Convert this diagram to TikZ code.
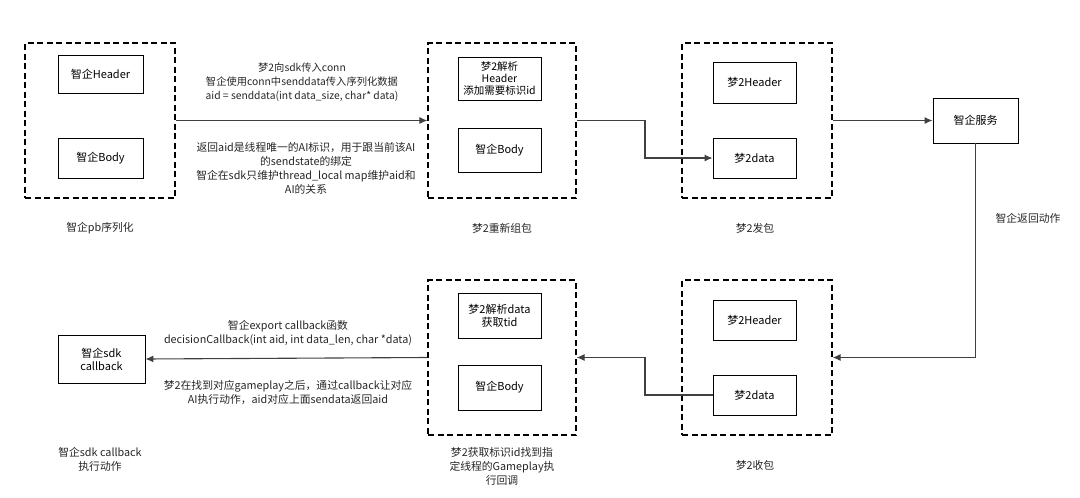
\documentclass[tikz,border=0pt]{standalone}
\usepackage{fontspec}
\setmainfont{Noto Sans CJK SC}
\usetikzlibrary{arrows.meta}
\begin{document}
\begin{tikzpicture}[x=1pt,y=-1pt,
 dbox/.style={draw,dashed,line width=1.3pt,dash pattern=on 6pt off 3.5pt},
 ibox/.style={draw,line width=0.9pt,align=center,font=\fontsize{11}{13}\selectfont,inner sep=1pt},
 lbl/.style={align=center,font=\fontsize{10.8}{14}\selectfont,text=black!85,inner sep=0pt},
 arr/.style={draw=black!75,line width=1.1pt,-{Latex[length=8pt,width=7pt]}}]
\useasboundingbox (0,0) rectangle (1080,498);
% boxes
\node[dbox,minimum width=150,minimum height=155] (d1) at (100,120.5) {};
\node[dbox,minimum width=148,minimum height=155] (d2) at (502,120.5) {};
\node[dbox,minimum width=150,minimum height=155] (d3) at (757,120.5) {};
\node[dbox,minimum width=150,minimum height=155] (d4) at (757,357.5) {};
\node[dbox,minimum width=148,minimum height=155] (d5) at (502,357.5) {};
\node[ibox,minimum width=85,minimum height=38] (h1) at (100.5,74) {智企Header};
\node[ibox,minimum width=85,minimum height=40] (b1) at (100.5,158) {智企Body};
\node[ibox,minimum width=83,minimum height=43,font=\fontsize{10.5}{12}\selectfont] (h2) at (499.5,78.5) {梦2解析\\Header\\添加需要标识id};
\node[ibox,minimum width=83,minimum height=44] (b2) at (499.5,150) {智企Body};
\node[ibox,minimum width=83,minimum height=41] (h3) at (754.5,82.5) {梦2Header};
\node[ibox,minimum width=83,minimum height=40] (b3) at (754.5,158) {梦2data};
\node[ibox,minimum width=85,minimum height=45] (svc) at (975.5,120.5) {智企服务};
\node[ibox,minimum width=83,minimum height=40] (h4) at (754.5,320) {梦2Header};
\node[ibox,minimum width=83,minimum height=40] (b4) at (754.5,395) {梦2data};
\node[ibox,minimum width=83,minimum height=45] (h5) at (499.5,315.5) {梦2解析data\\获取tid};
\node[ibox,minimum width=83,minimum height=45] (b5) at (499.5,387.5) {智企Body};
\node[ibox,minimum width=87,minimum height=48] (cb) at (101.5,359) {智企sdk\\callback};
% labels
\node[lbl] at (100,228) {智企pb序列化};
\node[lbl] at (502,228) {梦2重新组包};
\node[lbl] at (755,228) {梦2发包};
\node[lbl] at (1028,218) {智企返回动作};
\node[lbl] at (755,465) {梦2收包};
\node[lbl] at (502,466) {梦2获取标识id找到指\\定线程的Gameplay执\\行回调};
\node[lbl] at (100,459) {智企sdk callback\\执行动作};
\node[lbl,font=\fontsize{10.3}{14}\selectfont] at (302,82) {梦2向sdk传入conn\\智企使用conn中senddata传入序列化数据\\aid = senddata(int data\_size, char* data)};
\node[lbl] at (306,168) {返回aid是线程唯一的AI标识，用于跟当前该AI\\的sendstate的绑定\\智企在sdk只维护thread\_local map维护aid和\\AI的关系};
\node[lbl] at (288,333) {智企export callback函数\\decisionCallback(int aid, int data\_len, char *data)};
\node[lbl] at (288,392) {梦2在找到对应gameplay之后，通过callback让对应\\AI执行动作，aid对应上面sendata返回aid};
% connectors
\draw[arr] (d1.east) -- (d2.west);
\draw[arr] (d2.east) -- (645,120.5) |- (b3.west);
\draw[arr] (d3.east) -- (svc.west);
\draw[arr] (svc.south) |- (d4.east);
\draw[arr] (b4.west) -- (645,395) |- (d5.east);
\draw[arr] (d5.west) -- (cb.east);
\end{tikzpicture}
\end{document}
